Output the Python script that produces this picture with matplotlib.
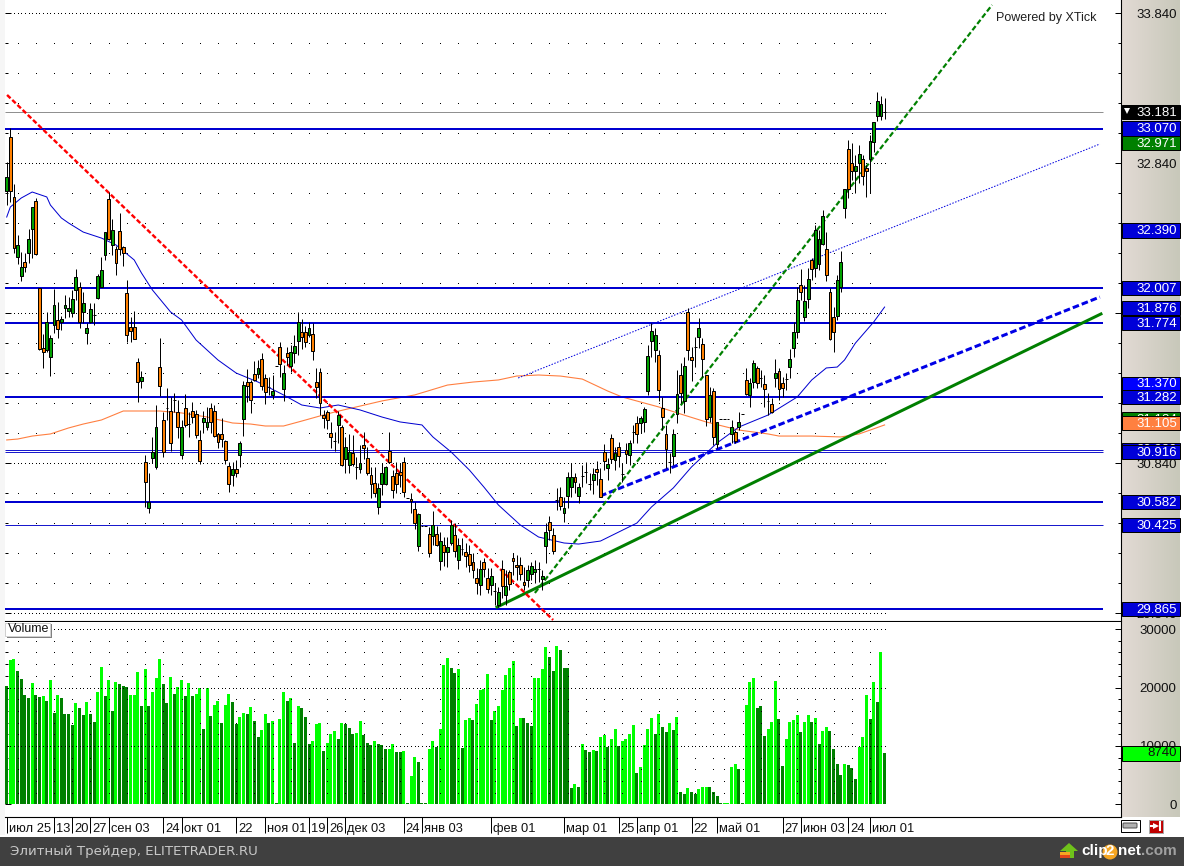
import numpy as np
import matplotlib
matplotlib.use('Agg')
import matplotlib.pyplot as plt
from matplotlib.patches import Rectangle, Polygon, Circle, FancyBboxPatch
from matplotlib.transforms import ScaledTranslation

plt.rcParams['font.family'] = ['Liberation Sans', 'DejaVu Sans']

# --- candles
opens = [32.654,33.014,32.614,32.214,32.087,32.180,32.240,32.400,32.587,32.007,
31.607,31.594,31.547,31.760,31.794,31.780,31.874,31.854,31.840,31.994,
32.014,31.847,31.707,31.780,31.827,31.940,32.014,32.227,32.600,32.294,
32.267,32.387,32.280,31.974,31.747,31.747,31.514,31.387,30.847,30.540,
30.874,30.814,31.480,31.127,31.207,31.187,31.260,31.180,30.894,31.207,
31.100,31.187,31.167,30.994,31.114,31.080,31.207,31.187,31.034,31.034,
30.987,30.820,30.760,30.800,30.894,31.134,31.380,31.380,31.434,31.434,
31.534,31.407,31.347,31.294,31.487,31.614,31.334,31.574,31.487,31.574,
31.654,31.714,31.714,31.694,31.700,31.380,31.447,31.160,31.180,31.040,
30.987,31.094,31.080,30.867,30.827,30.907,30.814,30.800,30.960,30.874,
30.760,30.707,30.547,30.700,30.700,30.920,30.754,30.774,30.780,30.847,
30.607,30.600,30.534,30.287,30.420,30.420,30.367,30.354,30.367,30.187,
30.294,30.247,30.307,30.360,30.194,30.267,30.247,30.234,30.180,30.074,
30.027,30.180,30.074,30.027,29.987,29.894,30.134,29.960,30.114,30.207,
30.160,30.160,30.047,30.060,30.100,30.114,30.134,30.067,30.287,30.447,
30.360,30.594,30.614,30.507,30.620,30.680,30.747,30.620,30.754,30.780,
30.700,30.727,30.800,30.734,30.914,30.807,31.007,30.860,30.947,30.767,
30.927,30.894,31.047,31.107,31.107,31.114,31.320,31.654,31.594,31.560,
31.207,31.034,30.847,30.887,31.167,31.427,31.254,31.847,31.547,31.614,
31.680,31.634,31.427,31.147,31.320,30.967,31.134,31.134,31.134,31.034,
31.047,31.080,31.167,31.394,31.294,31.380,31.474,31.407,31.367,31.254,
31.234,31.407,31.454,31.374,31.400,31.480,31.607,31.714,32.027,31.814,
31.934,32.194,32.140,32.167,32.300,32.267,31.980,31.814,31.820,32.014,
32.540,32.934,32.840,32.787,32.840,32.867,32.807,32.867,32.980,33.154,
33.154,33.180]
closes = [32.747,32.654,32.274,32.294,32.147,32.147,32.334,32.547,32.234,31.600,
31.580,31.780,31.674,31.894,31.734,31.800,31.894,31.874,31.934,32.080,
31.780,31.907,31.740,31.867,31.827,32.087,32.127,32.380,32.334,32.394,
32.174,32.267,32.240,31.694,31.720,31.667,31.380,31.414,30.714,30.580,
30.914,31.080,31.354,30.914,31.207,30.974,31.260,31.080,31.080,31.094,
31.100,31.147,31.027,30.854,31.140,31.114,31.114,31.020,30.980,31.000,
30.860,30.700,30.800,30.774,30.974,31.360,31.354,31.260,31.394,31.474,
31.354,31.314,31.347,31.320,31.487,31.500,31.440,31.547,31.580,31.620,
31.780,31.680,31.647,31.740,31.587,31.347,31.240,31.140,31.127,31.014,
30.987,31.160,30.827,30.947,30.914,30.834,30.814,30.840,30.940,30.774,
30.700,30.640,30.674,30.774,30.814,30.847,30.660,30.700,30.760,30.647,
30.607,30.587,30.440,30.500,30.420,30.420,30.240,30.427,30.294,30.320,
30.247,30.280,30.427,30.254,30.294,30.267,30.220,30.160,30.127,30.040,
30.134,30.134,30.000,30.087,29.987,29.980,30.020,30.020,30.034,30.187,
30.147,30.100,30.027,30.127,30.154,30.134,30.134,30.087,30.380,30.394,
30.254,30.594,30.554,30.540,30.747,30.747,30.714,30.680,30.754,30.780,
30.700,30.767,30.780,30.614,30.854,30.834,30.867,30.907,30.887,30.767,
30.900,30.974,31.047,31.034,31.140,31.200,31.554,31.720,31.694,31.327,
31.147,30.934,30.847,31.034,31.300,31.307,31.487,31.594,31.527,31.614,
31.740,31.534,31.134,31.294,31.014,31.114,31.134,31.134,31.134,31.080,
30.987,31.114,31.167,31.300,31.374,31.507,31.374,31.407,31.334,31.254,
31.180,31.440,31.334,31.340,31.400,31.534,31.714,31.927,31.980,31.920,
32.067,32.134,32.394,32.334,32.487,32.094,31.667,31.714,32.060,32.180,
32.667,32.667,32.787,32.820,32.900,32.754,32.787,32.987,33.114,33.254,
33.234,33.180]
highs = [32.847,33.074,32.700,32.360,32.247,32.240,32.400,32.547,32.607,32.007,
31.700,31.847,31.694,32.000,31.914,31.820,31.960,31.947,31.994,32.134,
32.047,31.980,31.774,31.907,31.907,32.100,32.214,32.380,32.647,32.467,
32.287,32.507,32.287,32.060,31.814,31.854,31.540,31.454,30.894,30.774,
31.014,31.227,31.674,31.180,31.340,31.280,31.307,31.260,31.127,31.300,
31.180,31.247,31.194,31.060,31.187,31.214,31.240,31.227,31.040,31.140,
30.994,30.847,30.847,30.860,30.987,31.387,31.467,31.394,31.520,31.527,
31.574,31.434,31.414,31.427,31.487,31.647,31.494,31.614,31.627,31.694,
31.847,31.800,31.754,31.780,31.774,31.474,31.474,31.194,31.194,31.114,
31.047,31.187,31.094,31.014,31.034,31.027,30.880,30.960,31.047,30.947,
30.814,30.814,30.707,30.840,30.820,31.047,30.794,30.847,30.840,30.880,
30.607,30.640,30.580,30.507,30.420,30.420,30.414,30.520,30.420,30.380,
30.347,30.347,30.460,30.440,30.340,30.340,30.307,30.294,30.240,30.140,
30.194,30.207,30.140,30.140,30.040,30.014,30.194,30.127,30.127,30.240,
30.227,30.214,30.147,30.160,30.180,30.194,30.180,30.127,30.440,30.487,
30.407,30.674,30.680,30.614,30.780,30.840,30.774,30.707,30.827,30.847,
30.774,30.807,30.854,30.807,30.967,30.874,31.034,30.947,30.980,30.840,
30.974,30.994,31.094,31.154,31.154,31.214,31.627,31.774,31.740,31.594,
31.280,31.094,30.907,31.067,31.460,31.507,31.547,31.874,31.614,31.680,
31.807,31.674,31.427,31.347,31.340,31.114,31.134,31.134,31.134,31.127,
31.060,31.180,31.167,31.474,31.407,31.527,31.487,31.460,31.427,31.307,
31.274,31.534,31.474,31.414,31.440,31.600,31.780,32.014,32.134,32.027,
32.140,32.207,32.427,32.394,32.527,32.380,32.007,31.880,32.094,32.254,
32.667,32.994,32.974,32.894,32.960,32.894,32.827,33.027,33.114,33.314,
33.287,33.274]
lows = [32.560,32.580,32.240,32.167,32.054,32.114,32.174,32.207,32.227,31.594,
31.474,31.580,31.420,31.707,31.674,31.727,31.807,31.814,31.814,31.927,
31.740,31.774,31.634,31.774,31.760,31.934,32.014,32.194,32.327,32.227,
32.094,32.227,32.154,31.647,31.647,31.667,31.247,31.340,30.547,30.507,
30.840,30.800,31.287,30.880,31.127,30.920,31.180,31.007,30.867,31.080,
31.014,31.107,31.007,30.834,31.040,31.060,31.040,31.014,30.940,30.947,
30.834,30.647,30.687,30.747,30.814,31.020,31.247,31.174,31.387,31.407,
31.327,31.234,31.294,31.267,31.487,31.414,31.254,31.494,31.447,31.507,
31.560,31.600,31.614,31.680,31.527,31.274,31.160,31.074,31.067,30.940,
30.920,30.974,30.820,30.774,30.774,30.820,30.734,30.774,30.867,30.760,
30.607,30.614,30.500,30.627,30.694,30.840,30.607,30.640,30.680,30.614,
30.607,30.507,30.400,30.254,30.420,30.420,30.214,30.294,30.287,30.127,
30.154,30.147,30.294,30.214,30.134,30.227,30.147,30.114,30.074,29.967,
29.960,30.080,29.974,29.960,29.894,29.880,29.940,29.894,29.994,30.094,
30.060,30.060,29.994,30.014,30.060,30.040,30.047,29.994,30.174,30.327,
30.234,30.527,30.527,30.447,30.540,30.614,30.640,30.574,30.680,30.707,
30.660,30.634,30.694,30.614,30.794,30.727,30.840,30.794,30.814,30.714,
30.840,30.827,30.974,30.974,31.040,31.047,31.294,31.547,31.514,31.254,
31.060,30.807,30.774,30.827,31.107,31.240,31.174,31.527,31.387,31.480,
31.607,31.414,31.087,31.114,30.960,30.940,31.134,31.134,31.134,30.974,
30.974,31.060,31.167,31.294,31.214,31.340,31.340,31.347,31.214,31.160,
31.174,31.347,31.260,31.280,31.327,31.407,31.547,31.674,31.927,31.787,
31.874,32.060,32.080,32.127,32.294,32.054,31.660,31.580,31.794,31.980,
32.474,32.607,32.727,32.640,32.707,32.694,32.614,32.640,32.914,33.120,
33.127,33.134]

volumes = [20200,24700,24900,22800,21400,18700,18200,20700,18700,18400,
18500,17700,21300,15600,18700,18200,15400,15400,13600,17300,
16500,15300,17500,15400,14100,19200,23500,18500,21300,16000,
20900,20600,20200,20100,18700,18700,22600,16800,23100,16800,
19200,21600,24900,20600,17300,21800,18900,20100,21300,18500,
20700,18500,18900,19900,12900,19900,15100,17000,17700,13900,
17000,18900,17500,13700,14900,15600,15400,16600,14200,11500,
12700,15400,13900,14300,200,14600,19200,17700,18200,10500,
16800,16500,14900,10300,10800,13700,13900,9100,10500,12000,
12500,11200,13900,13700,13000,12000,12200,14300,11900,10500,
10100,10800,10300,10100,9500,9500,10300,8900,8900,9100,
200,4800,8100,7300,200,200,9500,10800,9800,12900,
23800,25000,23300,22500,23100,9600,14400,14800,14400,17100,
19600,19700,22300,14400,16000,16800,19600,22100,23300,24500,
13400,14800,14800,13900,13400,21600,21600,23100,26900,25200,
22800,27100,26400,23300,23300,2800,3500,3000,10300,9300,
8900,9300,9100,11500,11900,9800,11200,12900,10000,10800,
11200,12000,13600,5400,6400,10100,12900,14800,12000,15500,
13200,12400,13900,12700,14900,2100,1800,2800,2100,1800,
2600,3000,3000,3000,2100,1400,200,200,200,6400,
7000,6000,200,17000,20900,21600,16500,16800,11700,12900,
14100,21100,14600,6500,11200,14100,14400,15300,12400,14100,
15300,14100,14800,10300,12500,13200,12500,9500,6900,5000,
6900,6700,6200,4300,9800,11500,18700,14600,20900,17500,
26000,8740]
vol_shade = ("DLLDDDDLDD" "LDLDLDDDDL" "DDLDDLLDLD" "LDDDLLLDLD" "LLLDDLDLLD"
             "LDLLDLDLLD" "LLDDLLDLDD" "LLDLDLLDLD" "LDDDLLLDLL" "LDLDDDLLDD"
             "DLDDDLLDDL" "DLLDDDLLDL" "LLDDLDLLDL" "LLLDLLLLLL" "DLDDDLLLLD"
             "DLDDDDLDLD" "DLDLLDLLDL" "LLLDLLLLDL" "DDLDLDDLDD" "LLLDDDDLLL"
             "LDDLLLDDDL" "LLDDLLLLDL" "LDLDLLDDDD" "LDDDLLLDLD" "LD")

# moving averages, read at a few bars
ma_blue_x = [0,1,4,7,11,12,15,17,21,26,30,35,37,40,45,48,52,58,63,69,76,81,86,91,97,103,108,114,117,122,127,131,135,141,146,153,157,163,173,177,183,188,195,201,209,217,221,225,228,230,233,238,241]
ma_blue_y = [32.480,32.547,32.607,32.647,32.614,32.560,32.474,32.440,32.380,32.340,32.294,32.194,32.107,31.994,31.847,31.794,31.660,31.527,31.440,31.380,31.294,31.227,31.207,31.227,31.194,31.147,31.114,31.094,31.014,30.914,30.794,30.680,30.560,30.427,30.347,30.307,30.300,30.320,30.440,30.547,30.674,30.814,30.974,31.080,31.160,31.280,31.394,31.474,31.480,31.527,31.640,31.780,31.880]
ma_orange_x = [0,3,7,12,17,21,26,32,38,42,48,55,62,67,71,76,81,86,90,103,112,121,128,135,140,146,152,158,165,169,179,185,192,201,209,212,221,229,234,241]
ma_orange_y = [30.994,31.000,31.020,31.034,31.074,31.100,31.127,31.187,31.187,31.187,31.174,31.147,31.107,31.100,31.087,31.087,31.120,31.154,31.180,31.254,31.294,31.360,31.380,31.394,31.420,31.427,31.420,31.400,31.320,31.280,31.214,31.167,31.114,31.060,31.034,31.020,31.020,31.014,31.034,31.094]

# trend lines (two ends each)
red_x, red_y = [0.1, 150], [33.294, 29.794]
green_dash_x, green_dash_y = [145, 270.5], [29.974, 33.894]
blue_dash_x, blue_dash_y = [162.9, 300.1], [30.620, 31.947]
green_x, green_y = [134.6, 300.4], [29.880, 31.834]
blue_thin_x, blue_thin_y = [140.4, 300.1], [31.407, 32.967]

thick_levels = [33.070, 32.007, 31.774, 31.282, 30.582, 29.865]
thin_levels = [30.930, 30.913, 30.425]
last_level = 33.181

# right hand price boxes, bottom one first
box_prices = [33.181, 33.070, 32.971, 32.390, 32.007, 31.876, 31.774, 31.370, 31.282, 31.134, 31.105, 30.930, 30.916, 30.582, 30.425, 29.865]
box_colors = ['#000000', '#0000D8', '#008000', '#0000D8', '#0000D8', '#0000D8', '#0000D8', '#0000FF', '#0000D8', '#008000', '#FF8040', '#0000D8', '#0000D8', '#0000D8', '#0000D8', '#0000D8']

price_major = [33.84, 32.84, 31.84, 30.84, 29.84]
vol_major = [0, 10000, 20000, 30000]
date_ticks = [0,13,18,23,28,43,48,63,71,83,88,93,109,114,133,153,168,173,188,195,213,218,231,237]
date_labels = ['июл 25','13','20','27','сен 03','24','окт 01','22','ноя 01','19','26','дек 03','24','янв 03',
               'фев 01','мар 01','25','апр 01','22','май 01','27','июн 03','24','июл 01']

W, H = 1184, 866
fig = plt.figure(figsize=(W / 100, H / 100), dpi=100, facecolor='white')
PX = 0.72  # one pixel in points

# chrome behind everything, in pixels
bg = fig.add_axes([0, 0, 1, 1], zorder=-1)
grad = np.linspace([226, 218, 212], [200, 200, 186], 58)[None, :, :].astype(np.uint8)
bg.imshow(grad, extent=[1122, 1180, 817, 0], aspect='auto')
bg.set_xlim(0, W)
bg.set_ylim(H, 0)
bg.axis('off')
bg.add_patch(Rectangle((0, 0), 5, 835, color='#F6F6F6', lw=0))
bg.add_patch(Rectangle((0, 837), W, 29, color='#404040', lw=0))
bg.text(10, 852, 'Элитный Трейдер, ELITETRADER.RU', color='#C8C8C8', fontsize=9.6,
        family='DejaVu Sans', va='center')
# clip2net mark
bg.add_patch(Polygon([[1069, 843], [1078, 851], [1074, 851], [1074, 858], [1066, 858], [1066, 851], [1060, 851]], color='#6FC21B', lw=0))
bg.add_patch(Rectangle((1060, 852), 10, 3, color='#F5A623', lw=0))
bg.add_patch(Rectangle((1060, 855), 10, 3, color='#E2461B', lw=0))
bg.text(1081, 851, 'clip', color='white', fontsize=11, fontweight='bold', va='center')
bg.add_patch(Circle((1110, 852), 7.5, color='#F5A623', lw=0))
bg.text(1110, 851, '2', color='white', fontsize=11, fontweight='bold', va='center', ha='center')
bg.text(1118, 851, 'net', color='white', fontsize=11, fontweight='bold', va='center')
bg.text(1141, 851, '.com', color='#A0A0A0', fontsize=11, fontweight='bold', va='center')
# link and exit buttons
bg.add_patch(Rectangle((1120.5, 819.5), 19, 12, fc='white', ec='black', lw=PX))
bg.add_patch(FancyBboxPatch((1124, 824), 12, 3, boxstyle='round,pad=1', fc='#B0B0B0', ec='#505050', lw=PX))
bg.add_patch(Rectangle((1148.5, 819.5), 14, 13, fc='#C00000', ec='#A8A8A8', lw=PX))
bg.plot([1151, 1156], [826, 826], color='white', lw=1.5)
bg.plot([1156], [826], marker='>', color='white', ms=4.5, mew=0)
bg.plot([1160, 1160], [822, 830], color='white', lw=1.5)

xlim = (-0.467, 305.9)
ax = fig.add_axes([5 / W, 1 - 621 / H, 1116 / W, 621 / H])
ax.set_xlim(xlim)
ax.set_ylim(29.787, 33.927)
vx = fig.add_axes([5 / W, 1 - 817 / H, 1116 / W, 195 / H])
vx.set_xlim(xlim)
vx.set_ylim(-2137, 31197)

n = len(opens)
bars = np.arange(n)
dot_bars = np.r_[np.arange(3, 109, 5), np.arange(114, 195, 5), np.arange(197, 240, 5)]


def dots(axis, xs, ys, z):
    xx, yy = np.meshgrid(xs, ys)
    axis.plot(xx.ravel(), yy.ravel(), ls='', marker='s', ms=1.0 * PX, mew=0, color='black', zorder=z, antialiased=False)


# price panel
dots(ax, dot_bars, np.arange(29.84, 33.9, 0.2), 1)
dots(ax, bars, price_major, 1)
ax.plot(ma_orange_x, ma_orange_y, color='#FF7F40', lw=1.1 * PX, zorder=2)
ax.plot(ma_blue_x, ma_blue_y, color='#0000D0', lw=1.0 * PX, zorder=2)
ax.hlines(last_level, xlim[0], 301, color='#909090', lw=1.0 * PX, zorder=2)
ax.hlines(thin_levels, xlim[0], 301, color='#0000C8', lw=0.9 * PX, zorder=3)
ax.hlines(thick_levels, xlim[0], 301, color='#0000D0', lw=2.0 * PX, zorder=3)
ax.plot(blue_thin_x, blue_thin_y, color='#0000E0', lw=1.0 * PX, ls=(0, (1.5, 1.5)), zorder=3)
ax.plot(green_x, green_y, color='#007F00', lw=3.0 * PX, zorder=3)
ax.plot(blue_dash_x, blue_dash_y, color='#0000E6', lw=3.0 * PX, ls=(0, (2.2, 1.0)), zorder=3)
ax.plot(green_dash_x, green_dash_y, color='#008000', lw=2.2 * PX, ls=(0, (2.4, 1.2)), zorder=3)
ax.plot(red_x, red_y, color='#FF0000', lw=2.4 * PX, ls=(0, (2.0, 1.0)), zorder=3, clip_on=False)

ax.vlines(bars, lows, highs, color='black', lw=1.0 * PX, zorder=5)
body_colors = ['#00A000' if c >= o else '#FF8000' for o, c in zip(opens, closes)]
ax.bar(bars, np.array(closes) - np.array(opens), bottom=opens, width=0.78, color=body_colors,
       edgecolor='black', linewidth=1.0 * PX, zorder=6)

ax.set_xticks([])
ax.set_yticks(price_major)
ax.set_yticklabels(['%.3f' % p for p in price_major], ha='right', fontsize=9.5, color='#101010')
ax.set_yticks(np.arange(29.84, 33.9, 0.2), minor=True)
ax.tick_params(axis='y', which='major', direction='in', length=6 * PX, width=PX, left=True, right=True,
               labelleft=False, labelright=True, pad=40)
ax.tick_params(axis='y', which='minor', direction='in', length=3 * PX, width=PX, left=True, right=True)
for side in ['top', 'left']:
    ax.spines[side].set_visible(False)
for side in ['bottom', 'right']:
    ax.spines[side].set_linewidth(1.1 * PX)

tr = ax.get_yaxis_transform()
box_x0, box_w = 1 + 1 / 1116, 58 / 1116
for i, (p, c) in enumerate(zip(box_prices, box_colors)):
    ax.add_patch(Rectangle((box_x0, p - 0.047), box_w, 0.094, transform=tr, fc=c, ec='black', lw=PX,
                           clip_on=False, zorder=20 + i))
    ax.text(1 + 56 / 1116, p - 0.006, '%.3f' % p, transform=tr, color='white', fontsize=9.5, ha='right', va='center',
            zorder=20 + i)
ax.plot([1 + 6 / 1116], [33.19], transform=tr, marker='v', color='white', ms=4.5, mew=0, clip_on=False, zorder=40)
ax.annotate('Powered by XTick', xy=(996 / W, 1 - 18 / H), xycoords='figure fraction', fontsize=9,
            color='#202020', va='center', zorder=30)

# volume panel
vol_colors = ['#00FF00' if s == 'L' else '#008000' for s in vol_shade]
vx.bar(bars, volumes, width=0.82, color=vol_colors, linewidth=0, zorder=2)
dots(vx, dot_bars, np.arange(2000, 30001, 2000), 3)
dots(vx, bars, [10000, 20000, 30000], 3)
vx.set_yticks(vol_major)
vx.set_yticklabels([str(v) for v in vol_major], ha='right', fontsize=9.5, color='#101010')
vx.set_yticks(np.arange(0, 30001, 2000), minor=True)
vx.tick_params(axis='y', which='major', direction='in', length=6 * PX, width=PX, left=True, right=True,
               labelleft=False, labelright=True, pad=40)
vx.tick_params(axis='y', which='minor', direction='in', length=3 * PX, width=PX, left=True, right=True)
vx.set_xticks(date_ticks)
vx.set_xticklabels(date_labels, ha='left', fontsize=9.3, color='#101010')
vx.tick_params(axis='x', direction='out', length=16 * PX, width=PX, pad=-7)
shift = ScaledTranslation(2 / 100, 0, fig.dpi_scale_trans)
for lab in vx.get_xticklabels():
    lab.set_transform(lab.get_transform() + shift)
for side in ['top', 'left']:
    vx.spines[side].set_visible(False)
for side in ['bottom', 'right']:
    vx.spines[side].set_linewidth(1.1 * PX)

# Volume tag
vx.add_patch(Rectangle((1.5 / 1116, 179.5 / 195), 45 / 1116, 14 / 195, transform=vx.transAxes, fc='#808080', lw=0, zorder=9))
vx.add_patch(Rectangle((0, 181 / 195), 45 / 1116, 13 / 195, transform=vx.transAxes, fc='white', ec='#D0D0D0', lw=PX, zorder=10))
vx.text(3 / 1116, 187.5 / 195, 'Volume', transform=vx.transAxes, fontsize=9, va='center', color='#101010', zorder=11)

vtr = vx.get_yaxis_transform()
vx.add_patch(Rectangle((box_x0, 8740 - 1260), box_w, 2520, transform=vtr, fc='#00FF00', ec='black', lw=PX, clip_on=False, zorder=20))
vx.text(1 + 56 / 1116, 8740, '8740', transform=vtr, color='#101010', fontsize=9.5, ha='right', va='center', zorder=21)

fig.savefig('out.png', dpi=100, facecolor='white')
